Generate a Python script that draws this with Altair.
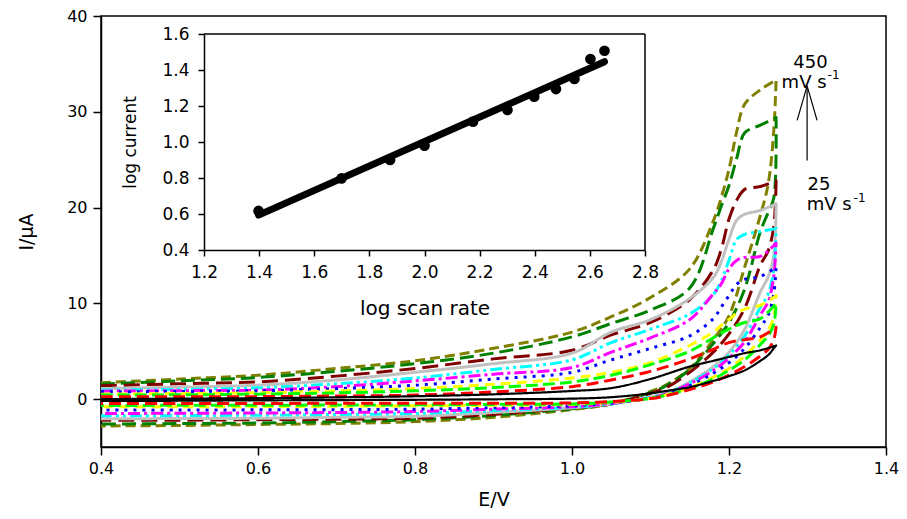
import altair as alt
import pandas as pd

# ---------------- main CV data ----------------
E_FWD = [0.40, 0.50, 0.60, 0.70, 0.80, 0.90, 1.00, 1.05, 1.10, 1.15, 1.18, 1.19, 1.20, 1.21, 1.22, 1.24, 1.26]
E_REV = [1.26, 1.257, 1.25, 1.24, 1.22, 1.20, 1.18, 1.15, 1.12, 1.10, 1.05, 1.00, 0.90, 0.80, 0.70, 0.60, 0.50, 0.40]

fwd_25 = [0.0, 0.05, 0.1, 0.18, 0.3, 0.5, 0.85, 1.15, 2.1, 3.4, 4.0, 4.2, 4.4, 4.6, 4.8, 5.1, 5.6]
rev_25 = [5.6, 5.3, 4.6, 4.0, 3.0, 2.4, 1.9, 1.25, 0.85, 0.6, 0.2, 0.05, -0.02, -0.07, -0.1, -0.13, -0.17, -0.2]
fwd_50 = [0.24, 0.24, 0.26, 0.32, 0.42, 0.75, 1.3, 2.0, 2.9, 4.2, 5.2, 5.6, 5.9, 6.1, 6.2, 6.5, 7.5]
rev_50 = [7.5, 6.2, 5.2, 4.5, 3.4, 2.5, 1.8, 1.0, 0.35, 0.05, -0.25, -0.4, -0.42, -0.43, -0.44, -0.45, -0.45, -0.45]
fwd_75 = [0.42, 0.45, 0.52, 0.65, 0.87, 1.2, 1.8, 2.5, 3.6, 5.0, 6.4, 6.9, 7.3, 7.7, 8.0, 8.4, 10.0]
rev_75 = [10.0, 7.8, 6.6, 5.7, 4.1, 3.0, 2.1, 1.1, 0.4, 0.08, -0.3, -0.5, -0.55, -0.6, -0.62, -0.64, -0.65, -0.66]
fwd_100 = [0.52, 0.58, 0.66, 0.85, 1.1, 1.55, 2.2, 2.8, 3.8, 5.6, 7.0, 7.7, 8.3, 9.0, 9.4, 9.8, 10.8]
rev_100 = [10.8, 8.6, 7.2, 6.2, 4.5, 3.2, 2.3, 1.2, 0.45, 0.1, -0.35, -0.55, -0.65, -0.7, -0.75, -0.78, -0.8, -0.8]
fwd_150 = [0.76, 0.8, 0.86, 1.1, 1.45, 2.1, 2.8, 4.1, 5.3, 6.6, 8.4, 9.6, 10.8, 12.0, 12.5, 12.8, 13.8]
rev_150 = [13.8, 11.0, 8.8, 7.5, 5.3, 3.8, 2.7, 1.4, 0.5, 0.12, -0.4, -0.7, -0.9, -1.05, -1.1, -1.12, -1.14, -1.15]
fwd_200 = [0.83, 0.88, 0.94, 1.3, 1.9, 2.6, 3.3, 4.9, 6.4, 8.3, 11.0, 12.0, 13.6, 14.5, 14.8, 14.9, 16.3]
rev_200 = [16.3, 12.8, 10.2, 8.8, 6.0, 4.3, 3.0, 1.6, 0.55, 0.15, -0.45, -0.8, -1.05, -1.3, -1.4, -1.45, -1.48, -1.5]
fwd_250 = [0.94, 1.02, 1.18, 1.6, 2.2, 3.1, 4.1, 5.9, 7.3, 8.9, 10.9, 12.3, 14.5, 16.7, 17.2, 17.5, 17.8]
rev_250 = [17.8, 13.5, 11.0, 9.6, 6.6, 4.6, 3.2, 1.7, 0.6, 0.2, -0.5, -0.85, -1.2, -1.5, -1.6, -1.68, -1.72, -1.74]
fwd_300 = [1.1, 1.25, 1.46, 2.0, 2.8, 3.7, 4.8, 7.0, 8.3, 10.5, 12.7, 14.3, 16.7, 18.7, 19.3, 19.7, 20.4]
rev_300 = [20.4, 15.0, 12.8, 11.2, 7.3, 4.9, 3.4, 1.8, 0.6, 0.2, -0.5, -0.9, -1.4, -1.8, -1.9, -2.0, -2.03, -2.05]
fwd_350 = [1.4, 1.6, 1.8, 2.4, 3.2, 4.2, 5.1, 6.7, 8.0, 10.4, 13.5, 15.6, 18.8, 20.8, 21.9, 22.2, 22.8]
rev_350 = [22.8, 18.0, 15.5, 14.0, 9.5, 6.8, 4.9, 2.8, 1.2, 0.6, -0.5, -0.9, -1.6, -2.0, -2.1, -2.15, -2.2, -2.2]
fwd_400 = [1.56, 1.9, 2.26, 2.9, 3.7, 4.8, 6.5, 7.9, 9.3, 11.6, 17.8, 20.1, 22.3, 25.2, 27.8, 28.6, 29.4]
rev_400 = [29.4, 21.0, 19.5, 17.5, 11.5, 8.0, 5.8, 3.1, 1.4, 0.7, -0.5, -1.0, -1.7, -2.15, -2.35, -2.5, -2.55, -2.6]
fwd_450 = [1.7, 2.1, 2.5, 3.2, 4.0, 5.3, 7.0, 8.6, 10.6, 13.6, 18.6, 21.0, 24.0, 28.0, 30.8, 32.3, 33.3]
rev_450 = [33.3, 28.0, 22.5, 19.2, 13.8, 8.7, 6.2, 3.2, 1.5, 0.8, -0.5, -1.1, -1.9, -2.35, -2.55, -2.65, -2.75, -2.8]

SCAN_RATES = [25, 50, 75, 100, 150, 200, 250, 300, 350, 400, 450]
FWD = [fwd_25, fwd_50, fwd_75, fwd_100, fwd_150, fwd_200, fwd_250, fwd_300, fwd_350, fwd_400, fwd_450]
REV = [rev_25, rev_50, rev_75, rev_100, rev_150, rev_200, rev_250, rev_300, rev_350, rev_400, rev_450]
COLORS = ["#000000", "#FF0000", "#00FF00", "#FFFF00", "#0000FF", "#FF00FF",
          "#00FFFF", "#C0C0C0", "#800000", "#008000", "#808000"]
DASHES = [[1, 0], [12, 6], [12, 5], [10, 6], [3, 6], [12, 4, 3, 4],
          [12, 4, 3, 4, 3, 4], [1, 0], [16, 7], [14, 6], [10, 5]]
WIDTHS = [2.2, 3, 3, 3, 3, 3, 3, 3, 3, 3, 3]

# ---------------- inset data ----------------
LOG_RATE = [1.398, 1.699, 1.875, 2.000, 2.176, 2.301, 2.398, 2.477, 2.544, 2.602, 2.653]
LOG_CURRENT = [0.617, 0.798, 0.900, 0.980, 1.113, 1.178, 1.252, 1.294, 1.350, 1.461, 1.507]
FIT_X = [1.398, 2.653]
FIT_Y = [0.594, 1.446]

# ---------------- annotation text ----------------
ANN_TEXT = ["450", "mV s", "-1", "25", "mV s", "-1"]
ANN_E = [1.282, 1.267, 1.3256, 1.300, 1.299, 1.3587]
ANN_I = [34.6, 32.5, 33.4, 21.8, 19.7, 20.6]
ANN_SIZE = [18, 18, 12, 18, 18, 12]
ARROW_E = [1.2995, 1.2995, 1.2995]
ARROW_I = [24.9, 32.7, 32.7]
ARROW_E2 = [1.2995, 1.2868, 1.3122]
ARROW_I2 = [32.7, 29.1, 29.1]

FONT = "DejaVu Sans"

xs = alt.Scale(domain=[0.4, 1.4], nice=False, zero=False)
ys = alt.Scale(domain=[-5, 40], nice=False, zero=False)
x_axis = alt.Axis(values=[0.4, 0.6, 0.8, 1.0, 1.2, 1.4], format=".1f", title="E/V",
                  tickSize=8, labelPadding=5, titlePadding=14, labelFontSize=16,
                  titleFontSize=19, labelFlush=False)
y_axis = alt.Axis(values=[0, 10, 20, 30, 40], format="d", title="I/μA",
                  tickSize=8, labelPadding=6, titlePadding=30, labelFontSize=16,
                  titleFontSize=19)

layers = []
for k in reversed(range(len(SCAN_RATES))):
    rows = []
    step = 0
    for e, i in zip(E_FWD, FWD[k]):
        rows.append({"E": e, "I": i, "step": step}); step += 1
    for e, i in zip(E_REV, REV[k]):
        rows.append({"E": e, "I": i, "step": step}); step += 1
    df = pd.DataFrame(rows)
    layers.append(
        alt.Chart(df).mark_line(color=COLORS[k], strokeDash=DASHES[k], strokeWidth=WIDTHS[k],
                                strokeJoin="round", interpolate="catmull-rom")
        .encode(x=alt.X("E:Q", scale=xs, axis=x_axis),
                y=alt.Y("I:Q", scale=ys, axis=y_axis),
                order="step:Q")
    )

ann_df = pd.DataFrame({"E": ANN_E, "I": ANN_I, "t": ANN_TEXT, "s": ANN_SIZE})
ann = alt.Chart(ann_df).mark_text(align="left", baseline="alphabetic", font=FONT, color="black").encode(
    x=alt.X("E:Q", scale=xs, axis=x_axis),
    y=alt.Y("I:Q", scale=ys, axis=y_axis),
    text="t:N",
    size=alt.Size("s:Q", scale=None, legend=None),
)
arrow_df = pd.DataFrame({"E": ARROW_E, "I": ARROW_I, "E2": ARROW_E2, "I2": ARROW_I2})
arrow = alt.Chart(arrow_df).mark_rule(color="black", strokeWidth=1.2).encode(
    x=alt.X("E:Q", scale=xs, axis=x_axis),
    y=alt.Y("I:Q", scale=ys, axis=y_axis),
    x2="E2:Q", y2="I2:Q",
)
main = alt.layer(*layers, ann, arrow)

# ---------------- inset ----------------
ix = alt.Scale(domain=[1.2, 2.8], range=[103, 544], nice=False, zero=False)
iy = alt.Scale(domain=[0.4, 1.6], range=[234, 18], nice=False, zero=False)
ix_axis = alt.Axis(orient="bottom", offset=-197, values=[1.2, 1.4, 1.6, 1.8, 2.0, 2.2, 2.4, 2.6, 2.8],
                   format=".1f", title="log scan rate", tickSize=6, labelPadding=8,
                   titlePadding=18, labelFontSize=17, titleFontSize=20, labelFlush=False)
iy_axis = alt.Axis(orient="left", offset=-103, values=[0.4, 0.6, 0.8, 1.0, 1.2, 1.4, 1.6],
                   format=".1f", title="log current", tickSize=6, labelPadding=9,
                   titlePadding=22, labelFontSize=17, titleFontSize=17, labelFlush=False)

pts_df = pd.DataFrame({"lx": LOG_RATE, "ly": LOG_CURRENT})
pts = alt.Chart(pts_df).mark_circle(color="black", size=115, opacity=1).encode(
    x=alt.X("lx:Q", scale=ix, axis=ix_axis),
    y=alt.Y("ly:Q", scale=iy, axis=iy_axis),
)
fit_df = pd.DataFrame({"lx": FIT_X, "ly": FIT_Y})
fit = alt.Chart(fit_df).mark_line(color="black", strokeWidth=7, strokeCap="round").encode(
    x=alt.X("lx:Q", scale=ix, axis=ix_axis),
    y=alt.Y("ly:Q", scale=iy, axis=iy_axis),
)
frame_df = pd.DataFrame({"lx": [1.2, 2.8], "ly": [1.6, 0.4], "lx2": [2.8, 2.8], "ly2": [1.6, 1.6]})
frame = alt.Chart(frame_df).mark_rule(color="black", strokeWidth=1.5).encode(
    x=alt.X("lx:Q", scale=ix, axis=ix_axis),
    y=alt.Y("ly:Q", scale=iy, axis=iy_axis),
    x2="lx2:Q", y2="ly2:Q",
)
inset = alt.layer(pts, fit, frame)

chart = (
    alt.layer(main, inset)
    .resolve_scale(x="independent", y="independent")
    .properties(width=785, height=431, autosize=alt.AutoSizeParams(type="none"),
                padding={"left": 93, "top": 8, "right": 13, "bottom": 64},
                background="white")
    .configure_view(stroke="black", strokeWidth=1.5)
    .configure_axis(domainColor="black", tickColor="black", labelColor="black", titleColor="black",
                    labelFont=FONT, titleFont=FONT, titleFontWeight="normal",
                    domainWidth=1.5, tickWidth=1.5, grid=False)
)

chart.save("out.html", embed_options={"renderer": "svg", "actions": False})
